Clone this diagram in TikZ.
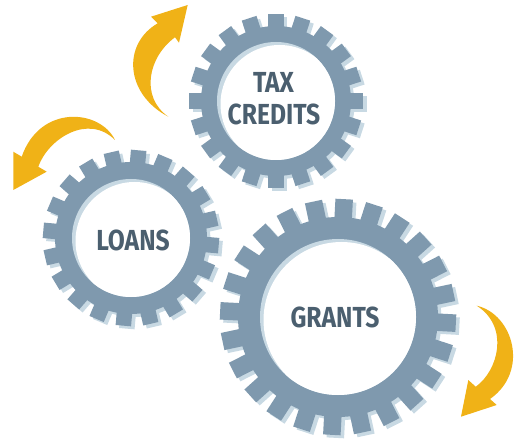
\documentclass[tikz,border=0pt]{standalone}
\usepackage{fontspec}
\newfontfamily\gearfont{Fira Sans}[FakeStretch=0.85]
\definecolor{gearc}{HTML}{7F99AE}
\definecolor{gshadow}{HTML}{C8D9E3}
\definecolor{textc}{HTML}{4B5F6F}
\definecolor{arrowc}{HTML}{F0B217}
\tikzset{
  geartext/.style={text=textc, font=\gearfont\bfseries\fontsize{29}{32}\selectfont, anchor=base, inner sep=0pt},
  arrowfill/.style={fill=arrowc}
}
% #1 x, #2 y, #3 teeth, #4 start angle, #5 tip r, #6 root r, #7 inner r, #8 tooth width
\newcommand\mygear[8]{%
  \begin{scope}[shift={(#1+3.5,#2-3)}]
    \fill[gshadow] (0,0) circle (#6);
    \foreach \k in {1,...,#3} {\fill[gshadow, rotate={#4+\k*360/#3}] (#6-3,-#8/2) rectangle (#5,#8/2);}
  \end{scope}
  \begin{scope}[shift={(#1,#2)}]
    \fill[gearc] (0,0) circle (#6);
    \foreach \k in {1,...,#3} {\fill[gearc, rotate={#4+\k*360/#3}] (#6-3,-#8/2) rectangle (#5,#8/2);}
    \fill[gshadow] (0,0) circle (#7);
    \begin{scope}
      \clip (0,0) circle (#7);
      \fill[white] (3.5,-3) circle (#7);
    \end{scope}
  \end{scope}
}
\begin{document}
\begin{tikzpicture}[x=1pt,y=1pt]
\useasboundingbox (0,0) rectangle (518,439);
% gears
\mygear{276}{338}{20}{90}{87}{75}{59}{15.5}
\mygear{131}{201}{20}{85}{88}{76}{59}{15.5}
\mygear{338}{122}{24}{87}{118}{100}{78}{17.5}
% labels
\node[geartext] (tax) at (273.5,346) {TAX};
\node[geartext] (credits) at (274,314) {CREDITS};
\node[geartext] (loans) at (133,189) {LOANS};
\node[geartext] (grants) at (335,111.7) {GRANTS};
% arrow 1 (top left of tax credits)
\coordinate (a1tail) at (168.3,322.3);
\coordinate (a1nl) at (157.7,415.7);
\coordinate (a1bl) at (151,422.3);
\coordinate (a1tip) at (187.7,434);
\coordinate (a1br) at (179,396.3);
\coordinate (a1nr) at (175,401.7);
\fill[arrowfill] (a1tail) .. controls (125,345) and (122,395) .. (a1nl) -- (a1bl) -- (a1tip) -- (a1br) -- (a1nr) .. controls (148,382) and (140,342) .. (a1tail) -- cycle;
% arrow 2 (left of loans)
\coordinate (a2tail) at (115,299);
\coordinate (a2nl) at (21.7,282.3);
\coordinate (a2bl) at (13.3,287.3);
\coordinate (a2tip) at (13.3,249);
\coordinate (a2br) at (46.7,267.3);
\coordinate (a2nr) at (38.3,272.3);
\fill[arrowfill] (a2tail) .. controls (100,330) and (40,335) .. (a2nl) -- (a2bl) -- (a2tip) -- (a2br) -- (a2nr) .. controls (48,300) and (88,326) .. (a2tail) -- cycle;
% arrow 3 (right of grants)
\coordinate (a3tail) at (476.7,133.3);
\coordinate (a3nr) at (490,40);
\coordinate (a3br) at (496.7,34);
\coordinate (a3tip) at (461,22.3);
\coordinate (a3bl) at (468.3,59);
\coordinate (a3nl) at (475.7,52.3);
\fill[arrowfill] (a3tail) .. controls (513,125) and (530,68) .. (a3nr) -- (a3br) -- (a3tip) -- (a3bl) -- (a3nl) .. controls (498,68) and (510,112) .. (a3tail) -- cycle;
\end{tikzpicture}
\end{document}
